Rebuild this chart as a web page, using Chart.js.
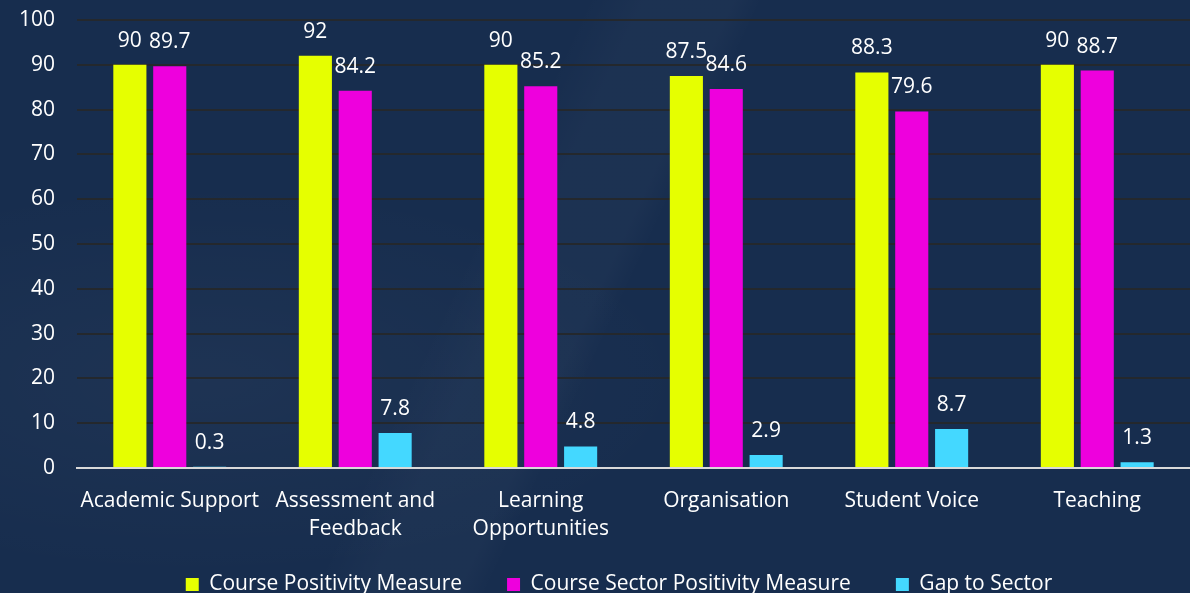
<!DOCTYPE html>
<html>
<head>
<meta charset="utf-8">
<script src="https://cdn.jsdelivr.net/npm/chart.js@4/dist/chart.umd.min.js"></script>
<style>
  html, body { margin: 0; padding: 0; }
  body {
    width: 1190px; height: 593px; overflow: hidden;
    background: #172d4e;
    background-image:
      linear-gradient(115deg, rgba(255,255,255,0) 0%, rgba(255,255,255,0) 40%, rgba(255,255,255,0.025) 44%, rgba(255,255,255,0.025) 50%, rgba(255,255,255,0) 52%),
      radial-gradient(ellipse 500px 200px at 200px 380px, rgba(255,255,255,0.03), rgba(255,255,255,0));
  }
  #wrap { position: relative; width: 1190px; height: 593px; }
</style>
</head>
<body>
<div id="wrap"><canvas id="c" width="1190" height="593"></canvas></div>
<script>
const categories = [
  "Academic Support",
  ["Assessment and", "Feedback"],
  ["Learning", "Opportunities"],
  "Organisation",
  "Student Voice",
  "Teaching"
];
const seriesNames = ["Course Positivity Measure", "Course Sector Positivity Measure", "Gap to Sector"];
const coursePositivity = [90, 92, 90, 87.5, 88.3, 90];
const sectorPositivity = [89.7, 84.2, 85.2, 84.6, 79.6, 88.7];
const gapToSector = [0.3, 7.8, 4.8, 2.9, 8.7, 1.3];
const yTicks = [0, 10, 20, 30, 40, 50, 60, 70, 80, 90, 100];

const FONT = "'Open Sans', sans-serif";
const FS = 21;

const valueLabels = {
  id: 'valueLabels',
  afterDatasetsDraw(chart) {
    const ctx = chart.ctx;
    ctx.save();
    ctx.fillStyle = '#ffffff';
    ctx.font = FS + 'px ' + FONT;
    ctx.textAlign = 'center';
    ctx.textBaseline = 'alphabetic';
    chart.data.datasets.forEach((ds, i) => {
      const meta = chart.getDatasetMeta(i);
      meta.data.forEach((bar, j) => {
        ctx.fillText(String(ds.data[j]), bar.x, bar.y - 18);
      });
    });
    ctx.restore();
  }
};

// move the legend box after layout so it sits close under the axis labels
const legendShift = {
  id: 'legendShift',
  afterLayout(chart) {
    const lg = chart.legend;
    if (!lg) return;
    const dy = -11, dx = 24;
    lg.top += dy;
    lg.bottom = chart.height;
    lg.height = lg.bottom - lg.top;
    lg.left += dx; lg.right += dx;
  }
};

new Chart(document.getElementById('c'), {
  type: 'bar',
  data: {
    labels: categories,
    datasets: [
      { label: seriesNames[0], data: coursePositivity, backgroundColor: '#e6ff00' },
      { label: seriesNames[1], data: sectorPositivity, backgroundColor: '#ee00dd' },
      { label: seriesNames[2], data: gapToSector, backgroundColor: '#44d8ff' }
    ]
  },
  options: {
    responsive: false,
    animation: false,
    devicePixelRatio: 1,
    layout: { padding: { top: 0, right: 0, left: 0, bottom: 0 } },
    datasets: { bar: { categoryPercentage: 0.645, barPercentage: 0.83 } },
    plugins: {
      legend: {
        position: 'bottom',
        maxHeight: 53,
        labels: {
          color: '#ffffff',
          font: { family: FONT, size: FS },
          boxWidth: 13, boxHeight: 13,
          padding: 45,
          useBorderRadius: false
        }
      },
      tooltip: { enabled: false }
    },
    scales: {
      x: {
        grid: { display: false },
        border: { display: true, color: '#d9d9d9', width: 2 },
        ticks: { color: '#ffffff', font: { family: FONT, size: FS, lineHeight: 1.333 }, maxRotation: 0, autoSkip: false, padding: 11 },
        afterFit(axis) { axis.height = 72; }
      },
      y: {
        min: 0, max: 100,
        afterBuildTicks(axis) { axis.ticks = yTicks.map(v => ({ value: v })); },
        afterFit(axis) { axis.width = 77; axis.paddingTop = 20; axis.paddingBottom = 12; },
        grid: { color: '#24282d', lineWidth: 2, drawTicks: false },
        border: { display: false },
        ticks: { color: '#ffffff', font: { family: FONT, size: FS }, padding: 22 }
      }
    }
  },
  plugins: [valueLabels, legendShift]
});
</script>
</body>
</html>
